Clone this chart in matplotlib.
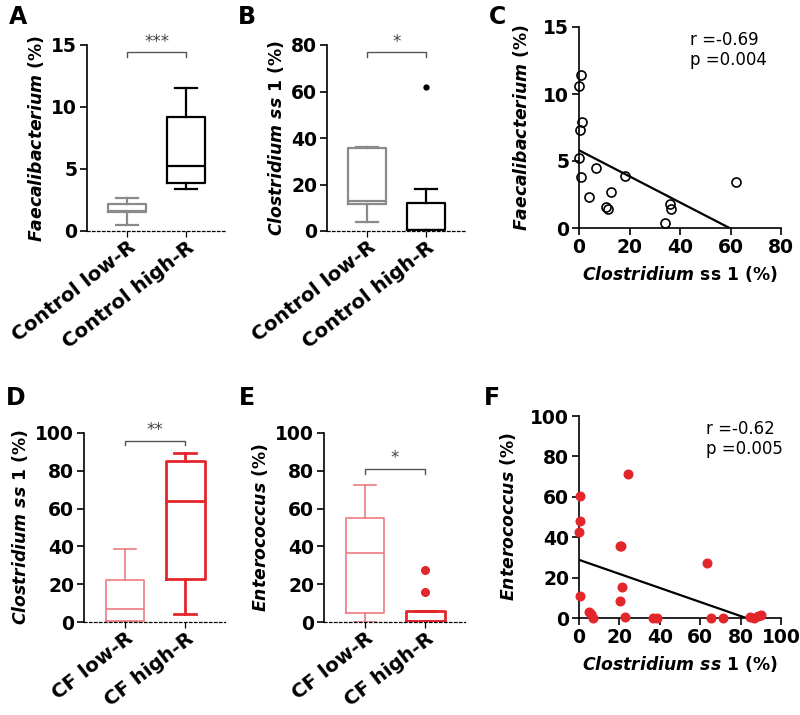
import matplotlib
matplotlib.use('Agg')
import matplotlib.pyplot as plt

plt.rcParams['font.family'] = ['DejaVu Sans']
plt.rcParams['mathtext.fontset'] = 'custom'
plt.rcParams['mathtext.it'] = 'DejaVu Sans:italic:bold'
plt.rcParams['mathtext.rm'] = 'DejaVu Sans:bold'
plt.rcParams['mathtext.bf'] = 'DejaVu Sans:bold'

# ---- data ----
ctrl_groups = ['Control low-R', 'Control high-R']
cf_groups = ['CF low-R', 'CF high-R']

# box stats: whislo, q1, med, q3, whishi
a_low = [0.45, 1.5, 1.65, 2.2, 2.7]
a_high = [3.4, 3.9, 5.25, 9.2, 11.5]
b_low = [4.0, 11.4, 12.8, 35.5, 36.1]
b_high = [0.0, 0.4, 0.5, 12.2, 18.1]
b_high_out = [62.0]
d_low = [0.0, 0.6, 7.0, 22.0, 38.8]
d_high = [4.3, 23.0, 64.0, 85.0, 89.6]
e_low = [0.0, 4.8, 36.4, 54.8, 72.3]
e_high = [0.0, 0.5, 0.5, 5.8, 5.8]
e_high_out = [15.7, 27.7]

c_x = [0.9, 0.0, 1.3, 0.5, 0.0, 0.7, 6.9, 3.8, 12.6, 10.6, 11.3, 18.1, 36.0, 36.3, 34.2, 62.0]
c_y = [11.4, 10.6, 7.9, 7.3, 5.2, 3.8, 4.5, 2.3, 2.7, 1.6, 1.4, 3.9, 1.8, 1.4, 0.4, 3.4]
c_fit = [5.8, -0.0973]  # intercept, slope
c_stat = 'r =-0.69\np =0.004'

f_x = [0.3, 0.3, 0.0, 0.7, 4.8, 5.8, 7.1, 20.2, 20.9, 21.2, 20.4, 23.0, 24.5,
       36.4, 38.7, 63.2, 65.4, 71.4, 84.8, 86.8, 88.7, 90.1]
f_y = [60.6, 48.1, 42.5, 11.0, 3.0, 2.0, 0.0, 35.6, 35.6, 15.3, 8.2, 0.3, 71.2,
       0.0, 0.0, 27.2, 0.0, 0.0, 0.5, 0.0, 0.8, 1.6]
f_fit = [28.8, -0.348]
f_stat = 'r =-0.62\np =0.005'

GRAY = '#8a8a8a'
PINK = '#ee7b80'
RED = '#e3262b'

TICK_FS = 13.5
LABEL_FS = 12.4

fig = plt.figure(figsize=(8, 7.15), dpi=100)


def px_axes(l, r, t, b):
    return fig.add_axes([l / 800, 1 - b / 715, (r - l) / 800, (b - t) / 715])


def stat(v, out=()):
    return dict(whislo=v[0], q1=v[1], med=v[2], q3=v[3], whishi=v[4], fliers=list(out))


def box_panel(ax, groups, low, high, colors, lws, ylim, yticks, ylabel, sig, sig_y, out=(), out_ms=4):
    stats = [stat(low), stat(high, out)]
    for i, s in enumerate(stats):
        c, lw = colors[i], lws[i]
        ax.bxp([s], positions=[i + 1], widths=0.64, showfliers=True, capwidths=0.36,
               boxprops=dict(color=c, linewidth=lw),
               medianprops=dict(color=c, linewidth=lw),
               whiskerprops=dict(color=c, linewidth=lw),
               capprops=dict(color=c, linewidth=lw),
               flierprops=dict(marker='o', markerfacecolor=c, markeredgecolor=c, markersize=out_ms))
    ax.set_xlim(0.32, 2.66)
    ax.set_ylim(*ylim)
    ax.set_yticks(yticks)
    ax.set_xticks([1, 2])
    ax.set_xticklabels(groups, rotation=38, ha='right', rotation_mode='anchor',
                       fontsize=14.2, fontweight='bold')
    for sp in ['top', 'right']:
        ax.spines[sp].set_visible(False)
    ax.spines['bottom'].set_linestyle((0, (2, 2)))
    ax.spines['bottom'].set_linewidth(0.9)
    ax.spines['left'].set_linewidth(1.2)
    ax.tick_params(axis='y', labelsize=TICK_FS, width=1.2, length=5, pad=2)
    ax.tick_params(axis='x', width=0.9, length=4, pad=1)
    for t in ax.get_yticklabels():
        t.set_fontweight('bold')
    ax.set_ylabel(ylabel, fontsize=LABEL_FS, fontweight='bold', labelpad=4)
    # significance bracket
    h = (ylim[1] - ylim[0]) * 0.025
    ax.plot([1, 1, 2, 2], [sig_y - h, sig_y, sig_y, sig_y - h], color='#555555', lw=1.0, clip_on=False)
    ax.text(1.5, sig_y + h * 0.3, sig, ha='center', va='bottom', fontsize=12, color='#444444', clip_on=False)


def scatter_panel(ax, x, y, fit, xlim, ylim, xticks, yticks, xlabel, ylabel, txt, txt_x, filled):
    if filled:
        ax.plot(x, y, 'o', color=RED, markersize=6.2, markeredgecolor=RED, clip_on=False, zorder=3)
    else:
        ax.plot(x, y, 'o', markerfacecolor='none', markeredgecolor='black', markersize=6.5,
                markeredgewidth=1.2, clip_on=False, zorder=3)
    x_end = -fit[0] / fit[1]
    ax.plot([0, x_end], [fit[0], 0], color='black', lw=1.6, zorder=2)
    ax.set_xlim(*xlim)
    ax.set_ylim(*ylim)
    ax.set_xticks(xticks)
    ax.set_yticks(yticks)
    for sp in ['top', 'right']:
        ax.spines[sp].set_visible(False)
    ax.spines['bottom'].set_linewidth(1.2)
    ax.spines['left'].set_linewidth(1.2)
    ax.tick_params(labelsize=TICK_FS, width=1.2, length=5, pad=2)
    for t in ax.get_yticklabels() + ax.get_xticklabels():
        t.set_fontweight('bold')
    ax.set_xlabel(xlabel, fontsize=LABEL_FS, fontweight='bold', labelpad=5)
    ax.set_ylabel(ylabel, fontsize=LABEL_FS, fontweight='bold', labelpad=9)
    ax.text(txt_x, 0.98, txt, transform=ax.transAxes, ha='left', va='top', fontsize=12, linespacing=1.15)


axA = px_axes(87, 225, 45, 231)
box_panel(axA, ctrl_groups, a_low, a_high, [GRAY, 'black'], [1.6, 1.6], (0, 15), [0, 5, 10, 15],
          r'$\it{Faecalibacterium}$ (%)', '***', 14.4)

axB = px_axes(327, 465, 45, 231)
box_panel(axB, ctrl_groups, b_low, b_high, [GRAY, 'black'], [1.6, 1.6], (0, 80), [0, 20, 40, 60, 80],
          r'$\it{Clostridium\ ss\ 1}$ (%)', '*', 77.0, out=b_high_out, out_ms=3.5)

axC = px_axes(579, 781, 27, 228)
scatter_panel(axC, c_x, c_y, c_fit, (0, 80), (0, 15), [0, 20, 40, 60, 80], [0, 5, 10, 15],
              r'$\it{Clostridium}$ ss 1 (%)', r'$\it{Faecalibacterium}$ (%)', c_stat, 0.55, False)

axD = px_axes(84, 225, 433, 622)
box_panel(axD, cf_groups, d_low, d_high, [PINK, RED], [1.2, 2.0], (0, 100), [0, 20, 40, 60, 80, 100],
          r'$\it{Clostridium\ ss\ 1}$ (%)', '**', 96.0)

axE = px_axes(324, 465, 433, 622)
box_panel(axE, cf_groups, e_low, e_high, [PINK, RED], [1.2, 2.0], (0, 100), [0, 20, 40, 60, 80, 100],
          r'$\it{Enterococcus}$ (%)', '*', 81.0, out=e_high_out, out_ms=5.5)

axF = px_axes(579, 781, 416, 618)
scatter_panel(axF, f_x, f_y, f_fit, (0, 100), (0, 100), [0, 20, 40, 60, 80, 100], [0, 20, 40, 60, 80, 100],
              r'$\it{Clostridium\ ss\ 1}$ (%)', r'$\it{Enterococcus}$ (%)', f_stat, 0.63, True)

for lab, x, y in [('A', 18, 17), ('B', 247, 17), ('C', 497, 17),
                  ('D', 16, 398), ('E', 247, 398), ('F', 492, 398)]:
    fig.text(x / 800, 1 - y / 715, lab, fontsize=17, fontweight='bold', ha='center', va='center')

fig.savefig('out.png', dpi=100)
